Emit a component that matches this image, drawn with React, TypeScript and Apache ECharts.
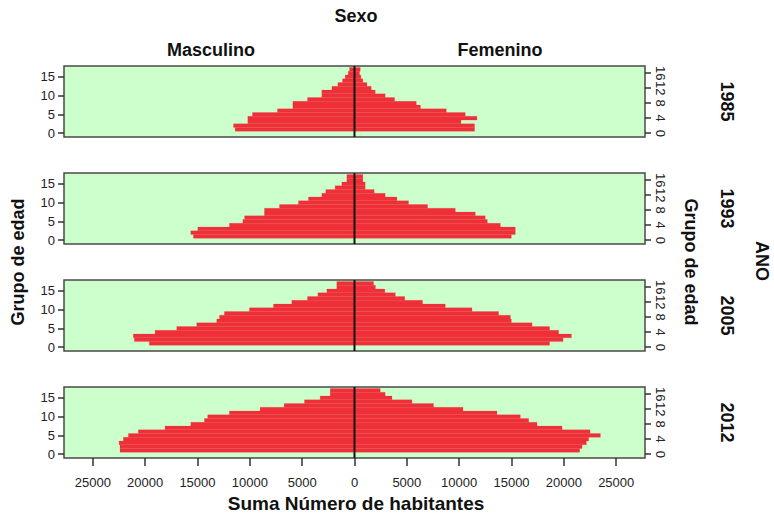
import React, { useEffect, useRef } from "react";
import * as echarts from "echarts";

const years = ["1985", "1993", "2005", "2012"];
const ageGroups = [1, 2, 3, 4, 5, 6, 7, 8, 9, 10, 11, 12, 13, 14, 15, 16, 17];

const male1985 = [11400, 11560, 10190, 10190, 9750, 7360, 5890, 5890, 4490, 3120, 3120, 2160, 1590, 1150, 890, 600, 480];
const female1985 = [11470, 11470, 10170, 11700, 10580, 8770, 6300, 5900, 3830, 2930, 1980, 1600, 1190, 800, 610, 480, 550];
const male1993 = [15390, 15640, 14970, 11950, 10670, 10500, 8600, 8600, 7170, 5350, 4400, 3120, 2740, 1850, 1210, 730, 730];
const female1993 = [14980, 15360, 15360, 13930, 12690, 12490, 11540, 9630, 6980, 5160, 4050, 2930, 1880, 1020, 1020, 800, 800];
const male2005 = [19600, 21030, 21130, 19050, 16980, 15070, 13160, 12900, 12430, 10040, 7740, 5990, 4490, 3500, 2640, 1690, 1690];
const female2005 = [18640, 19920, 20720, 19500, 18640, 16960, 14980, 14890, 13770, 11220, 8670, 6500, 4800, 3900, 2900, 2000, 1820];
const male2012 = [22400, 22400, 22490, 22080, 21600, 20650, 18100, 15640, 14340, 14020, 11950, 9020, 6720, 4780, 3280, 2320, 2320];
const female2012 = [21510, 21740, 22150, 22370, 23490, 22500, 19830, 17440, 16640, 15840, 13610, 10360, 7550, 5490, 3580, 2930, 2460];

const maleSeries = [male1985, male1993, male2005, male2012];
const femaleSeries = [female1985, female1993, female2005, female2012];

const xTicks = [-25000, -20000, -15000, -10000, -5000, 0, 5000, 10000, 15000, 20000, 25000];
const leftYTicks = [0, 5, 10, 15];
const rightYTicks = [0, 4, 8, 12, 16];

const FONT = "'Liberation Sans', Arial, sans-serif";
const RED = "#EF3039";
const GREEN = "#CCFFCC";

export default function App() {
  const ref = useRef<HTMLDivElement>(null);
  useEffect(() => {
    if (!ref.current) return;
    const chart = echarts.init(ref.current, null, { renderer: "svg" });
    const tops = [66, 173, 280, 387];
    const H = 71;
    const X_MIN = -27750, X_MAX = 27750, Y_MIN = -1, Y_MAX = 17.9;

    const grids: any[] = [];
    const xAxes: any[] = [];
    const yAxes: any[] = [];
    const series: any[] = [];

    const renderBar = (params: any, api: any) => {
      const v = api.value(0);
      const age = api.value(1);
      const p0 = api.coord([0, age + 0.5]);
      const p1 = api.coord([v, age - 0.5]);
      return {
        type: "rect",
        shape: {
          x: Math.min(p0[0], p1[0]),
          y: p0[1],
          width: Math.abs(p1[0] - p0[0]),
          height: p1[1] - p0[1],
        },
        style: { fill: RED, stroke: RED, lineWidth: 0.2 },
      };
    };

    years.forEach((yr, i) => {
      const last = i === years.length - 1;
      grids.push({
        left: 64,
        right: 129,
        top: tops[i],
        height: H,
        show: true,
        backgroundColor: GREEN,
        borderColor: "#4a4a4a",
        borderWidth: 1.5,
      });
      xAxes.push({
        type: "value",
        gridIndex: i,
        position: "bottom",
        min: X_MIN,
        max: X_MAX,
        axisLine: { show: false, onZero: false },
        splitLine: { show: false },
        axisTick: {
          show: last,
          customValues: xTicks,
          length: 8,
          lineStyle: { color: "#333", width: 1.5 },
        },
        axisLabel: {
          show: last,
          customValues: xTicks,
          formatter: (v: number) => String(Math.abs(v)),
          fontFamily: FONT,
          fontSize: 13,
          color: "#222",
          margin: 18,
        },
      });
      yAxes.push({
        type: "value",
        gridIndex: i,
        position: "left",
        min: Y_MIN,
        max: Y_MAX,
        axisLine: { show: false, onZero: false },
        splitLine: { show: false },
        axisTick: {
          show: true,
          customValues: leftYTicks,
          length: 6,
          lineStyle: { color: "#333", width: 1.5 },
        },
        axisLabel: {
          customValues: leftYTicks,
          fontFamily: FONT,
          fontSize: 13,
          color: "#222",
          margin: 9,
        },
      });
      yAxes.push({
        type: "value",
        gridIndex: i,
        position: "right",
        min: Y_MIN,
        max: Y_MAX,
        axisLine: { show: false, onZero: false },
        splitLine: { show: false },
        axisTick: {
          show: true,
          customValues: rightYTicks,
          length: 6,
          lineStyle: { color: "#333", width: 1.5 },
        },
        axisLabel: {
          customValues: rightYTicks,
          rotate: -90,
          fontFamily: FONT,
          fontSize: 13,
          color: "#222",
          margin: 9,
        },
      });
      const male = maleSeries[i];
      const female = femaleSeries[i];
      series.push({
        type: "custom",
        name: "Masculino " + yr,
        xAxisIndex: i,
        yAxisIndex: 2 * i,
        renderItem: renderBar,
        encode: { x: 0, y: 1 },
        clip: true,
        data: ageGroups.map((a, k) => [-male[k], a]),
      });
      series.push({
        type: "custom",
        name: "Femenino " + yr,
        xAxisIndex: i,
        yAxisIndex: 2 * i,
        renderItem: renderBar,
        encode: { x: 0, y: 1 },
        clip: true,
        data: ageGroups.map((a, k) => [female[k], a]),
      });
      series.push({
        type: "line",
        xAxisIndex: i,
        yAxisIndex: 2 * i,
        showSymbol: false,
        symbol: "none",
        z: 5,
        lineStyle: { color: "#111", width: 2 },
        data: [
          [0, Y_MIN],
          [0, Y_MAX],
        ],
      });
    });

    const titleStyle = (text: string, size: number) => ({
      text,
      fill: "#111",
      font: `bold ${size}px ${FONT}`,
      textAlign: "center",
      textVerticalAlign: "middle",
    });

    const graphic: any[] = [
      { type: "text", x: 356, y: 16, style: titleStyle("Sexo", 18) },
      { type: "text", x: 211, y: 50, style: titleStyle("Masculino", 18) },
      { type: "text", x: 500, y: 50, style: titleStyle("Femenino", 18) },
      { type: "text", x: 18, y: 262, rotation: Math.PI / 2, style: titleStyle("Grupo de edad", 18) },
      { type: "text", x: 691, y: 262, rotation: -Math.PI / 2, style: titleStyle("Grupo de edad", 18) },
      { type: "text", x: 762, y: 261, rotation: -Math.PI / 2, style: titleStyle("ANO", 18) },
      { type: "text", x: 356, y: 503, style: titleStyle("Suma Número de habitantes", 19) },
    ];
    years.forEach((yr, i) => {
      graphic.push({
        type: "text",
        x: 727,
        y: tops[i] + H / 2,
        rotation: -Math.PI / 2,
        style: titleStyle(yr, 18),
      });
    });

    chart.setOption({
      animation: false,
      backgroundColor: "#fff",
      grid: grids,
      xAxis: xAxes,
      yAxis: yAxes,
      series,
      graphic,
    });
    return () => chart.dispose();
  }, []);
  return <div ref={ref} style={{ width: 774, height: 514, position: "absolute", left: 0, top: 0 }} />;
}
